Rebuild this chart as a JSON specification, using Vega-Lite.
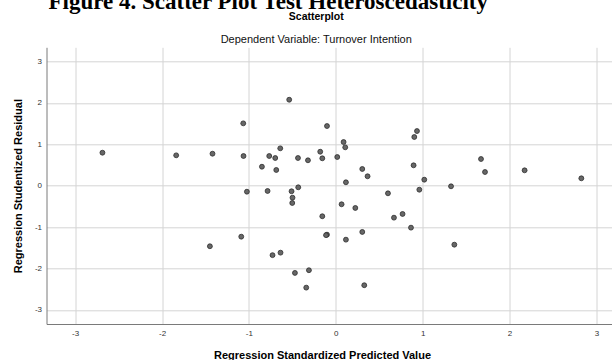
{
  "$schema": "https://vega.github.io/schema/vega-lite/v6.json",
  "autosize": {"type": "none"},
  "bounds": "flush",
  "padding": {"left": 46.5, "top": 47.3, "right": 565.5, "bottom": 312.7},
  "background": "white",
  "title": {
    "text": "Figure 4. Scatter Plot Test Heteroscedasticity",
    "anchor": "start",
    "frame": "group",
    "font": "Liberation Serif",
    "fontSize": 23,
    "fontWeight": "bold",
    "color": "#000000",
    "offset": 0,
    "dx": 2,
    "dy": 1.5
  },
  "vconcat": [
    {
      "width": 565.5,
      "height": 276.7,
      "title": {
        "text": "Scatterplot",
        "subtitle": "Dependent Variable: Turnover Intention",
        "anchor": "middle",
        "dx": -13,
        "font": "Liberation Sans",
        "fontSize": 10.5,
        "fontWeight": "bold",
        "color": "#000000",
        "subtitleFont": "Liberation Sans",
        "subtitleFontSize": 11,
        "subtitleColor": "#111111",
        "subtitlePadding": 11,
        "offset": 2.5
      },
      "data": {
        "values": [
          {"predicted": -2.686, "residual": 0.795},
          {"predicted": -1.837, "residual": 0.732},
          {"predicted": -0.536, "residual": 2.074},
          {"predicted": -1.065, "residual": 1.504},
          {"predicted": -0.101, "residual": 1.439},
          {"predicted": 0.090, "residual": 1.053},
          {"predicted": 0.109, "residual": 0.925},
          {"predicted": -1.419, "residual": 0.771},
          {"predicted": -1.062, "residual": 0.715},
          {"predicted": -0.639, "residual": 0.901},
          {"predicted": -0.766, "residual": 0.715},
          {"predicted": -0.697, "residual": 0.667},
          {"predicted": -0.435, "residual": 0.667},
          {"predicted": -0.320, "residual": 0.612},
          {"predicted": -0.179, "residual": 0.819},
          {"predicted": -0.155, "residual": 0.660},
          {"predicted": 0.017, "residual": 0.691},
          {"predicted": -0.850, "residual": 0.457},
          {"predicted": -0.685, "residual": 0.378},
          {"predicted": 0.305, "residual": 0.402},
          {"predicted": 0.366, "residual": 0.226},
          {"predicted": 0.117, "residual": 0.081},
          {"predicted": -1.023, "residual": -0.146},
          {"predicted": -0.785, "residual": -0.129},
          {"predicted": -0.509, "residual": -0.136},
          {"predicted": -0.432, "residual": -0.040},
          {"predicted": -0.498, "residual": -0.291},
          {"predicted": -0.501, "residual": -0.419},
          {"predicted": 0.601, "residual": -0.185},
          {"predicted": 0.067, "residual": -0.450},
          {"predicted": 0.225, "residual": -0.539},
          {"predicted": 0.935, "residual": 1.318},
          {"predicted": 0.904, "residual": 1.174},
          {"predicted": 0.896, "residual": 0.491},
          {"predicted": 1.019, "residual": 0.144},
          {"predicted": 0.962, "residual": -0.098},
          {"predicted": 1.327, "residual": -0.016},
          {"predicted": 1.672, "residual": 0.643},
          {"predicted": 1.718, "residual": 0.329},
          {"predicted": 2.174, "residual": 0.370},
          {"predicted": 2.827, "residual": 0.177},
          {"predicted": -0.155, "residual": -0.739},
          {"predicted": 0.670, "residual": -0.773},
          {"predicted": 0.769, "residual": -0.684},
          {"predicted": -1.449, "residual": -1.463},
          {"predicted": -1.088, "residual": -1.232},
          {"predicted": -0.101, "residual": -1.183},
          {"predicted": -0.112, "residual": -1.195},
          {"predicted": 0.117, "residual": -1.304},
          {"predicted": 0.305, "residual": -1.118},
          {"predicted": -0.728, "residual": -1.678},
          {"predicted": -0.636, "residual": -1.618},
          {"predicted": -0.470, "residual": -2.107},
          {"predicted": -0.309, "residual": -2.042},
          {"predicted": -0.340, "residual": -2.462},
          {"predicted": 0.328, "residual": -2.404},
          {"predicted": 0.866, "residual": -1.014},
          {"predicted": 1.365, "residual": -1.425}
        ]
      },
      "mark": {"type": "circle", "size": 24, "color": "#676767", "stroke": "#2b2b2b", "strokeWidth": 0.8, "opacity": 1},
      "encoding": {
        "x": {
          "field": "predicted",
          "type": "quantitative",
          "scale": {"domain": [-3.33, 3.18], "nice": false, "zero": false},
          "axis": {
            "values": [-3, -2, -1, 0, 1, 2, 3],
            "labelExpr": "datum.value < 0 ? '-' + abs(datum.value) : '' + datum.value",
            "title": "Regression Standardized Predicted Value",
            "titleX": 275.5,
            "titlePadding": 12
          }
        },
        "y": {
          "field": "residual",
          "type": "quantitative",
          "scale": {"domain": [-3.34, 3.34], "nice": false, "zero": false},
          "axis": {
            "values": [-3, -2, -1, 0, 1, 2, 3],
            "labelExpr": "datum.value < 0 ? '-' + abs(datum.value) : '' + datum.value",
            "title": "Regression Studentized Residual",
            "titlePadding": 11
          }
        }
      }
    }
  ],
  "config": {
    "view": {"stroke": null},
    "axis": {
      "ticks": false,
      "labelFont": "Liberation Sans",
      "labelFontSize": 8,
      "labelColor": "#333333",
      "labelPadding": 5,
      "domainColor": "#7a7a7a",
      "domainWidth": 1,
      "gridColor": "#d4d4d4",
      "gridWidth": 1,
      "titleFont": "Liberation Sans",
      "titleFontSize": 11,
      "titleFontWeight": "bold",
      "titleColor": "#000000"
    }
  }
}
